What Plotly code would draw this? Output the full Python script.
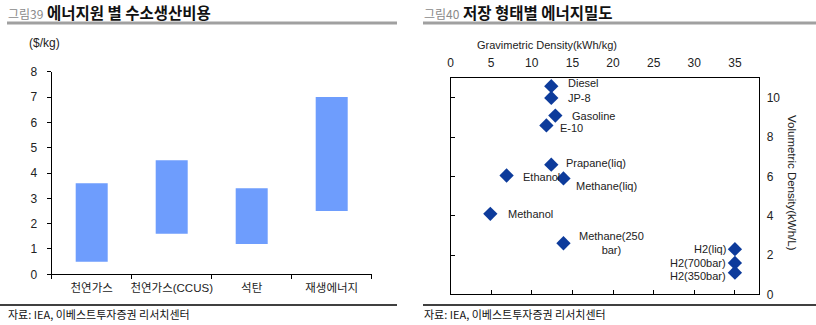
import plotly.graph_objects as go

W, H = 816, 325

# ---- left panel: hydrogen production cost by energy source ($/kg)
sources = ["천연가스", "천연가스(CCUS)", "석탄", "재생에너지"]
cost_low = [0.5, 1.6, 1.2, 2.5]
cost_high = [3.6, 4.5, 3.4, 7.0]

# ---- right panel: energy density by storage form
fuels = ["Diesel", "JP-8", "Gasoline", "E-10", "Prapane(liq)", "Ethanol",
         "Methane(liq)", "Methanol", "Methane(250<br>bar)",
         "H2(liq)", "H2(700bar)", "H2(350bar)"]
grav_density = [12.4, 12.4, 12.9, 11.8, 12.4, 6.9, 13.9, 4.9, 13.9, 35.0, 35.0, 35.0]
vol_density = [10.6, 10.0, 9.1, 8.6, 6.6, 6.05, 5.9, 4.1, 2.6, 2.3, 1.6, 1.1]
grav_ticks = [0, 5, 10, 15, 20, 25, 30, 35]
vol_ticks = [0, 2, 4, 6, 8, 10]

LAT = "Liberation Sans, Arial, sans-serif"
KR = "Liberation Sans, Noto Sans CJK KR, sans-serif"
KRB = "Noto Sans CJK KR, sans-serif"


def px(x):
    return x / W


def py(y):
    return 1 - y / H


fig = go.Figure()

# floating range bars
fig.add_trace(go.Bar(
    x=sources,
    y=[h - l for l, h in zip(cost_low, cost_high)],
    base=cost_low,
    width=0.4,
    marker=dict(color="#6E9DFD", line=dict(width=0)),
    xaxis="x", yaxis="y",
    hoverinfo="skip",
))

# scatter of densities (bottom / left axes carry the inside ticks)
fig.add_trace(go.Scatter(
    x=grav_density, y=vol_density,
    mode="markers",
    marker=dict(symbol="diamond", size=11, color="#0D3B9B", line=dict(width=0)),
    xaxis="x2", yaxis="y2",
    hoverinfo="skip",
))
# empty trace that anchors the labelled top / right axes
fig.add_trace(go.Scatter(x=[], y=[], xaxis="x3", yaxis="y3", hoverinfo="skip"))

label_offsets = {
    "Diesel": (15, 3, "left"),
    "JP-8": (15, 0, "left"),
    "Gasoline": (15, 0, "left"),
    "E-10": (12, -3, "left"),
    "Prapane(liq)": (13, 1.5, "left"),
    "Ethanol": (14, -1, "left"),
    "Methane(liq)": (11, -8, "left"),
    "Methanol": (16, 0, "left"),
    "Methane(250<br>bar)": (14, 0, "left"),
    "H2(liq)": (-7, 0, "right"),
    "H2(700bar)": (-7, 0, "right"),
    "H2(350bar)": (-7, -3.5, "right"),
}
for name, gx, vy in zip(fuels, grav_density, vol_density):
    dx, dy, anchor = label_offsets[name]
    fig.add_annotation(
        x=gx, y=vy, xref="x2", yref="y2", text=name, showarrow=False,
        xanchor=anchor, yanchor="middle", xshift=dx, yshift=dy,
        align="center", font=dict(family=LAT, size=11, color="#222222"),
    )

axis_line = dict(showline=True, linecolor="#000000", linewidth=1,
                 showgrid=False, zeroline=False, automargin=False,
                 fixedrange=True)

fig.update_layout(
    width=W, height=H,
    margin=dict(l=0, r=0, t=0, b=0),
    paper_bgcolor="white", plot_bgcolor="white",
    showlegend=False,
    font=dict(family=LAT, size=12, color="#222222"),
    xaxis=dict(
        domain=[px(51.7), px(371.7)], anchor="y",
        tickson="boundaries", ticks="outside", ticklen=4, tickcolor="#000000",
        tickangle=0, ticklabelstandoff=3,
        tickfont=dict(family=KR, size=11.5, color="#222222"),
        **axis_line,
    ),
    yaxis=dict(
        domain=[py(274.3), py(71.7)], anchor="x",
        range=[0, 8], dtick=1, ticks="outside", ticklen=4, tickcolor="#000000",
        ticklabelstandoff=7,
        tickfont=dict(family=LAT, size=12, color="#222222"),
        **axis_line,
    ),
    xaxis2=dict(
        domain=[px(450.5), px(759.3)], anchor="y2",
        range=[0, 38], tickvals=grav_ticks[1:], ticks="inside", ticklen=4,
        tickcolor="#000000", showticklabels=False, mirror=True,
        **axis_line,
    ),
    yaxis2=dict(
        domain=[py(294.3), py(78.3)], anchor="x2",
        range=[0, 11], tickvals=vol_ticks[1:], ticks="inside", ticklen=4,
        tickcolor="#000000", showticklabels=False, mirror=True,
        **axis_line,
    ),
    xaxis3=dict(
        overlaying="x2", anchor="y3", side="top",
        range=[0, 38], tickvals=grav_ticks, ticks="outside", ticklen=6,
        tickcolor="rgba(0,0,0,0)",
        tickfont=dict(family=LAT, size=12, color="#222222"),
        showline=False, showgrid=False, zeroline=False, fixedrange=True,
        automargin=False,
    ),
    yaxis3=dict(
        overlaying="y2", anchor="x3", side="right",
        range=[0, 11], tickvals=vol_ticks, ticks="outside", ticklen=4,
        tickcolor="rgba(0,0,0,0)",
        tickfont=dict(family=LAT, size=12, color="#222222"),
        showline=False, showgrid=False, zeroline=False, fixedrange=True,
        automargin=False,
    ),
)

# titles, rules and source notes
for x0, x1, num, title in [(7, 397, "그림39", "에너지원 별 수소생산비용"),
                           (423, 816, "그림40", "저장 형태별 에너지밀도")]:
    fig.add_annotation(
        x=px(x0 - 1), y=py(12), xref="paper", yref="paper", xanchor="left",
        yanchor="middle", showarrow=False,
        text=(f"<span style='color:#8a8a8a;font-size:12px'>{num}</span> "
              f"<b>{title}</b>"),
        font=dict(family=KRB, size=15.5, color="#111111"),
    )
    fig.add_shape(type="line", xref="paper", yref="paper",
                  x0=px(x0), x1=px(x1), y0=py(23), y1=py(23),
                  line=dict(color="#a0a0a0", width=3))
    fig.add_shape(type="line", xref="paper", yref="paper",
                  x0=px(0 if x0 < 100 else x0), x1=px(x1), y0=py(305), y1=py(305),
                  line=dict(color="#000000", width=1.5))
    fig.add_annotation(
        x=px(x0 - 1), y=py(314), xref="paper", yref="paper", xanchor="left",
        yanchor="middle", showarrow=False,
        text="자료: IEA, 이베스트투자증권 리서치센터",
        font=dict(family=KRB, size=11, color="#111111"),
    )

fig.add_annotation(
    x=px(27), y=py(43), xref="paper", yref="paper", xanchor="left",
    yanchor="middle", showarrow=False, text="($/kg)",
    font=dict(family=LAT, size=12, color="#222222"),
)
fig.add_annotation(
    x=px(547), y=py(45), xref="paper", yref="paper", xanchor="center",
    yanchor="middle", showarrow=False, text="Gravimetric Density(kWh/kg)",
    font=dict(family=LAT, size=11, color="#222222"),
)
fig.add_annotation(
    x=px(792), y=py(183), xref="paper", yref="paper", xanchor="center",
    yanchor="middle", showarrow=False, textangle=90,
    text="Volumetric Density(kWh/L)",
    font=dict(family=LAT, size=11.5, color="#222222"),
)

fig.write_html("out.html")
